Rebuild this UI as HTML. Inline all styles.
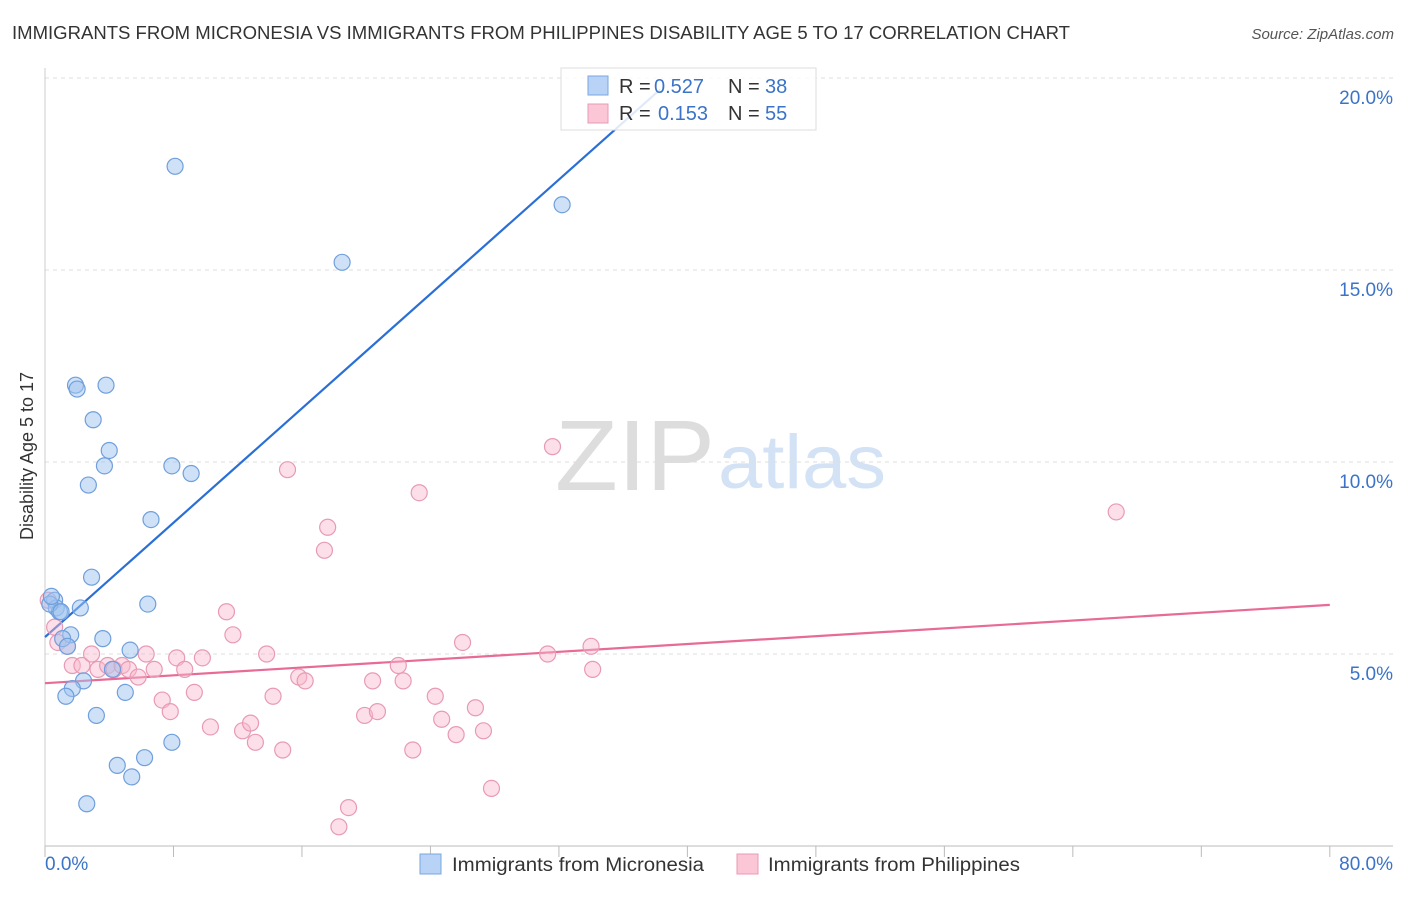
<!DOCTYPE html>
<html><head><meta charset="utf-8"><style>
body{margin:0;background:#fff;font-family:"Liberation Sans",sans-serif;}
svg text{font-family:"Liberation Sans",sans-serif;}
</style></head><body>
<svg id="chart" width="1406" height="892">
<text x="12" y="39" font-size="18" fill="#333" textLength="1058" lengthAdjust="spacingAndGlyphs">IMMIGRANTS FROM MICRONESIA VS IMMIGRANTS FROM PHILIPPINES DISABILITY AGE 5 TO 17 CORRELATION CHART</text>
<text x="1394" y="39" font-size="15" fill="#555" font-style="italic" text-anchor="end">Source: ZipAtlas.com</text>
<text x="33" y="456" font-size="18" fill="#333" text-anchor="middle" transform="rotate(-90 33 456)">Disability Age 5 to 17</text>
<g><text x="635" y="490" font-size="100" fill="#ddd" font-family="Liberation Serif" text-anchor="middle" textLength="160" lengthAdjust="spacingAndGlyphs">ZIP</text><text x="802" y="488" font-size="76" fill="#d3e2f5" text-anchor="middle" textLength="168" lengthAdjust="spacingAndGlyphs">atlas</text></g>
<g id="grid"></g><g id="axes"></g><g id="lines"></g><g id="pts"></g>
<g>
<rect x="561" y="68" width="255" height="62" fill="rgba(255,255,255,0.85)" stroke="#ddd"/>
<rect x="588" y="76" width="20" height="19" fill="#b8d3f5" stroke="#7aa7e0"/>
<rect x="588" y="104" width="20" height="19" fill="#fbc6d6" stroke="#e89ab5"/>
<text x="619" y="93" font-size="20" fill="#333">R =</text><text x="654" y="93" font-size="20" fill="#3b73c8">0.527</text>
<text x="728" y="93" font-size="20" fill="#333">N =</text><text x="765" y="93" font-size="20" fill="#3b73c8">38</text>
<text x="619" y="120" font-size="20" fill="#333">R =</text><text x="658" y="120" font-size="20" fill="#3b73c8">0.153</text>
<text x="728" y="120" font-size="20" fill="#333">N =</text><text x="765" y="120" font-size="20" fill="#3b73c8">55</text>
</g>
<g>
<rect x="420" y="854" width="21" height="20" fill="#b8d3f5" stroke="#7aa7e0"/>
<text x="452" y="871" font-size="19" fill="#333" textLength="252" lengthAdjust="spacingAndGlyphs">Immigrants from Micronesia</text>
<rect x="737" y="854" width="21" height="20" fill="#fbc6d6" stroke="#e89ab5"/>
<text x="768" y="871" font-size="19" fill="#333" textLength="252" lengthAdjust="spacingAndGlyphs">Immigrants from Philippines</text>
</g>
</svg>
<script>
const yTicks=[5,10,15,20];
const yTickLabels=["5.0%","10.0%","15.0%","20.0%"];
const blueX=[8.1,32.2,18.5,1.9,2.0,3.8,3.0,4.0,3.7,7.9,9.1,2.7,6.6,2.9,6.4,0.6,0.7,2.2,0.9,1.6,3.6,1.1,1.4,5.3,4.2,2.4,1.7,1.3,5.0,3.2,7.9,6.2,4.5,5.4,2.6,0.3,0.4,1.0];
const blueY=[17.7,16.7,15.2,12.0,11.9,12.0,11.1,10.3,9.9,9.9,9.7,9.4,8.5,7.0,6.3,6.4,6.2,6.2,6.1,5.5,5.4,5.4,5.2,5.1,4.6,4.3,4.1,3.9,4.0,3.4,2.7,2.3,2.1,1.8,1.1,6.3,6.5,6.1];
const pinkX=[0.2,0.6,0.8,1.4,1.7,2.3,2.9,3.3,3.9,4.3,4.8,5.2,5.8,6.3,6.8,7.3,7.8,8.2,8.7,9.3,9.8,10.3,11.3,11.7,12.3,12.8,13.1,13.8,14.2,14.8,15.1,15.8,16.2,17.4,17.6,18.3,18.9,19.9,20.4,20.7,22.0,22.3,22.9,23.3,24.3,24.7,25.6,26.0,26.8,27.3,27.8,31.3,31.6,34.0,34.1,66.7];
const pinkY=[6.4,5.7,5.3,5.2,4.7,4.7,5.0,4.6,4.7,4.6,4.7,4.6,4.4,5.0,4.6,3.8,3.5,4.9,4.6,4.0,4.9,3.1,6.1,5.5,3.0,3.2,2.7,5.0,3.9,2.5,9.8,4.4,4.3,7.7,8.3,0.5,1.0,3.4,4.3,3.5,4.7,4.3,2.5,9.2,3.9,3.3,2.9,5.3,3.6,3.0,1.5,5.0,10.4,5.2,4.6,8.7];
const blueLine=[[0,5.44],[38.3,19.7]];
const pinkLine=[[0,4.24],[80,6.28]];
const X=v=>45+v*16.06, Y=v=>846-v*38.4;
const NS="http://www.w3.org/2000/svg";
function mk(t,a,p){const e=document.createElementNS(NS,t);for(const k in a)e.setAttribute(k,a[k]);p.appendChild(e);return e;}
const grid=document.getElementById('grid'),axes=document.getElementById('axes');
yTicks.forEach((t,i)=>{
 const l=mk('line',{x1:45,x2:1393,y1:Y(t),y2:Y(t),stroke:'#ddd','stroke-dasharray':'4,4'},grid);
 
 
 const tx=mk('text',{x:1393,y:Y(t)+26,'font-size':19,fill:'#3b73c8','text-anchor':'end'},axes);tx.textContent=yTickLabels[i];
 
 
});
mk('line',{x1:45,x2:1393,y1:846,y2:846,stroke:'#bbb'},axes);
mk('line',{x1:45,x2:45,y1:68,y2:846,stroke:'#ccc'},axes);
for(let i=0;i<=10;i++){const l=mk('line',{x1:X(i*8),x2:X(i*8),y1:846,y2:857,stroke:'#bbb'},axes);
 
 }
let t=mk('text',{x:45,y:870,'font-size':19,fill:'#3b73c8'},axes);t.textContent='0.0%';


t=mk('text',{x:1393,y:870,'font-size':19,fill:'#3b73c8','text-anchor':'end'},axes);t.textContent='80.0%';


const lines=document.getElementById('lines');
let bl=mk('line',{x1:X(blueLine[0][0]),y1:Y(blueLine[0][1]),x2:X(blueLine[1][0]),y2:Y(blueLine[1][1]),stroke:'#2a6fd6','stroke-width':2.2},lines);


let pl=mk('line',{x1:X(pinkLine[0][0]),y1:Y(pinkLine[0][1]),x2:X(pinkLine[1][0]),y2:Y(pinkLine[1][1]),stroke:'#e86a96','stroke-width':2.2},lines);


const pts=document.getElementById('pts');
pinkX.forEach((x,i)=>{const c=mk('circle',{cx:X(x),cy:Y(pinkY[i]),r:8,fill:'rgba(248,185,205,0.45)',stroke:'#e89ab5','stroke-width':1.2},pts);
 
 });
blueX.forEach((x,i)=>{const c=mk('circle',{cx:X(x),cy:Y(blueY[i]),r:8,fill:'rgba(160,196,240,0.5)',stroke:'#6f9fdc','stroke-width':1.2},pts);
 
 });
</script>
</body></html>
